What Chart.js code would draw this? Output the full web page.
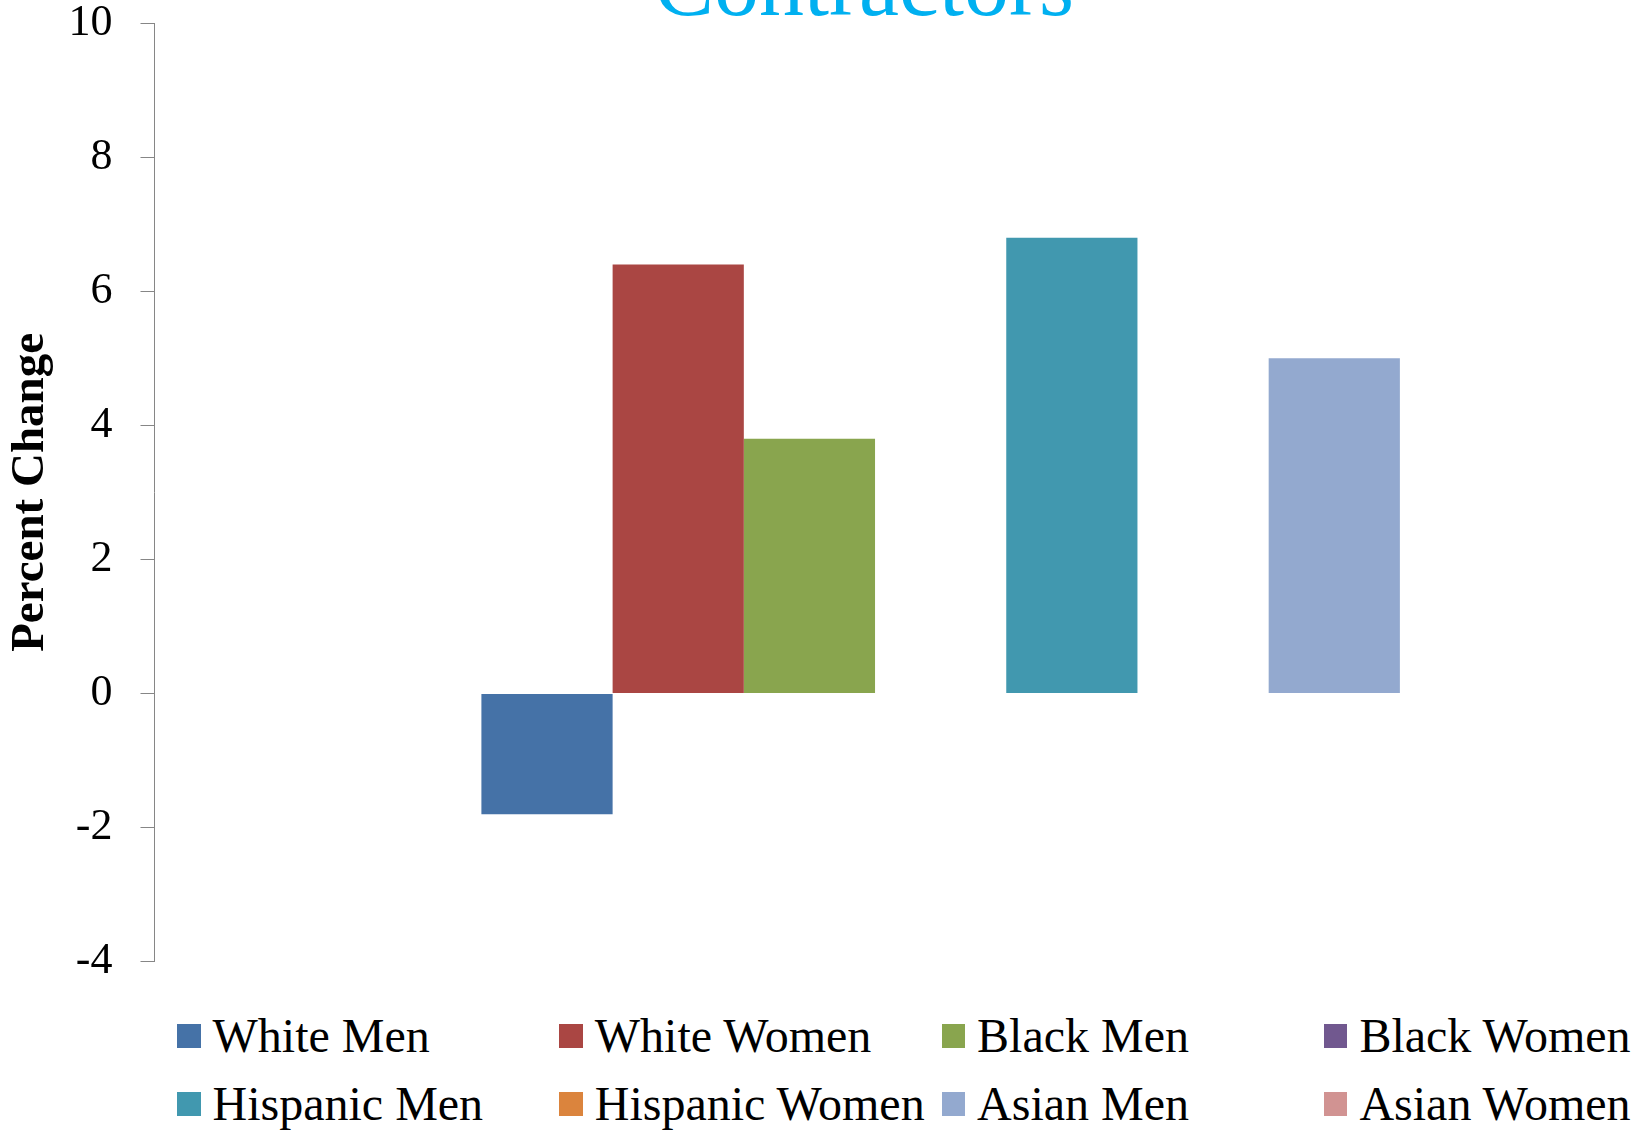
<!DOCTYPE html>
<html>
<head>
<meta charset="utf-8">
<title>Contractors</title>
<script src="https://cdn.jsdelivr.net/npm/chart.js@4/dist/chart.umd.min.js"></script>
<style>
  html, body { margin: 0; padding: 0; background: #ffffff; overflow: hidden; width: 1648px; height: 1130px; }
  #wrap { position: relative; width: 1648px; height: 1130px; overflow: hidden; }
  #chart { position: absolute; left: 0; top: 0; }
  #legend {
    position: absolute; left: 177px; top: 1002px;
    display: grid; grid-template-columns: repeat(4, 382.3px); grid-auto-rows: 68px;
    font-family: "Liberation Serif", "Times New Roman", serif; font-size: 48px; color: #000;
  }
  .item { display: flex; align-items: center; line-height: 68px; white-space: nowrap; }
  .swatch { width: 23.5px; height: 23.5px; margin-right: 12px; flex: 0 0 auto; }
</style>
</head>
<body>
<div id="wrap">
  <canvas id="chart" width="1858" height="990"></canvas>
  <div id="legend"></div>
</div>
<script>
// Percent change by group (single category, one bar per group)
const categories = ['Contractors'];
const groups = ['White Men', 'White Women', 'Black Men', 'Black Women',
                'Hispanic Men', 'Hispanic Women', 'Asian Men', 'Asian Women'];
const percentChange = [-1.8, 6.4, 3.8, 0, 6.8, 0, 5.0, 0];
const groupColors = ['#4572A7', '#AA4643', '#89A54E', '#71588F',
                     '#4198AF', '#DB843D', '#93A9CF', '#D19392'];
const yTicks = [-4, -2, 0, 2, 4, 6, 8, 10];

const serif = '"Liberation Serif", "Times New Roman", serif';

// Heading, drawn centred above the plot
const headingPlugin = {
  id: 'heading',
  afterDraw(chart) {
    const ctx = chart.ctx;
    ctx.save();
    ctx.font = '90px ' + serif;
    ctx.fillStyle = '#00B0F0';
    ctx.textAlign = 'center';
    ctx.textBaseline = 'alphabetic';
    ctx.fillText(categories[0], 864, 15);
    ctx.restore();
  }
};

const datasets = groups.map((name, i) => ({
  label: name,
  data: [percentChange[i]],
  backgroundColor: groupColors[i],
  borderWidth: 0,
  barPercentage: 1.0,
  categoryPercentage: 0.6162
}));

const chart = new Chart(document.getElementById('chart'), {
  type: 'bar',
  data: { labels: categories, datasets },
  plugins: [headingPlugin],
  options: {
    responsive: false,
    animation: false,
    devicePixelRatio: 1,
    layout: { padding: { top: 23.1, bottom: 28.3, left: 0, right: 0 } },
    plugins: {
      legend: { display: false },
      tooltip: { enabled: false },
      title: { display: false }
    },
    scales: {
      x: { display: false },
      y: {
        min: yTicks[0],
        max: yTicks[yTicks.length - 1],
        afterBuildTicks(scale) { scale.ticks = yTicks.map(v => ({ value: v })); },
        afterFit(scale) {
          // fixed axis width; the plot's vertical extent comes from the layout padding alone
          scale.width = 154.5;
          scale.paddingTop = 0;
          scale.paddingBottom = 0;
        },
        grid: {
          display: true, drawOnChartArea: false, drawTicks: true,
          tickLength: 14, color: '#868686', lineWidth: 1
        },
        border: { display: true, color: '#868686', width: 1 },
        ticks: {
          padding: 28,
          color: '#000000',
          font: { family: serif, size: 44, lineHeight: 1 },
          callback: v => String(v)
        },
        title: {
          display: true,
          text: 'Percent Change',
          color: '#000000',
          font: { family: serif, size: 47, weight: 'bold', lineHeight: 1.2 },
          padding: { top: 3, bottom: 0 }
        }
      }
    }
  }
});

// Legend grid built from the chart's datasets
const legendEl = document.getElementById('legend');
chart.data.datasets.forEach(ds => {
  const item = document.createElement('div');
  item.className = 'item';
  const sw = document.createElement('span');
  sw.className = 'swatch';
  sw.style.background = ds.backgroundColor;
  const txt = document.createElement('span');
  txt.textContent = ds.label;
  item.appendChild(sw);
  item.appendChild(txt);
  legendEl.appendChild(item);
});
</script>
</body>
</html>
